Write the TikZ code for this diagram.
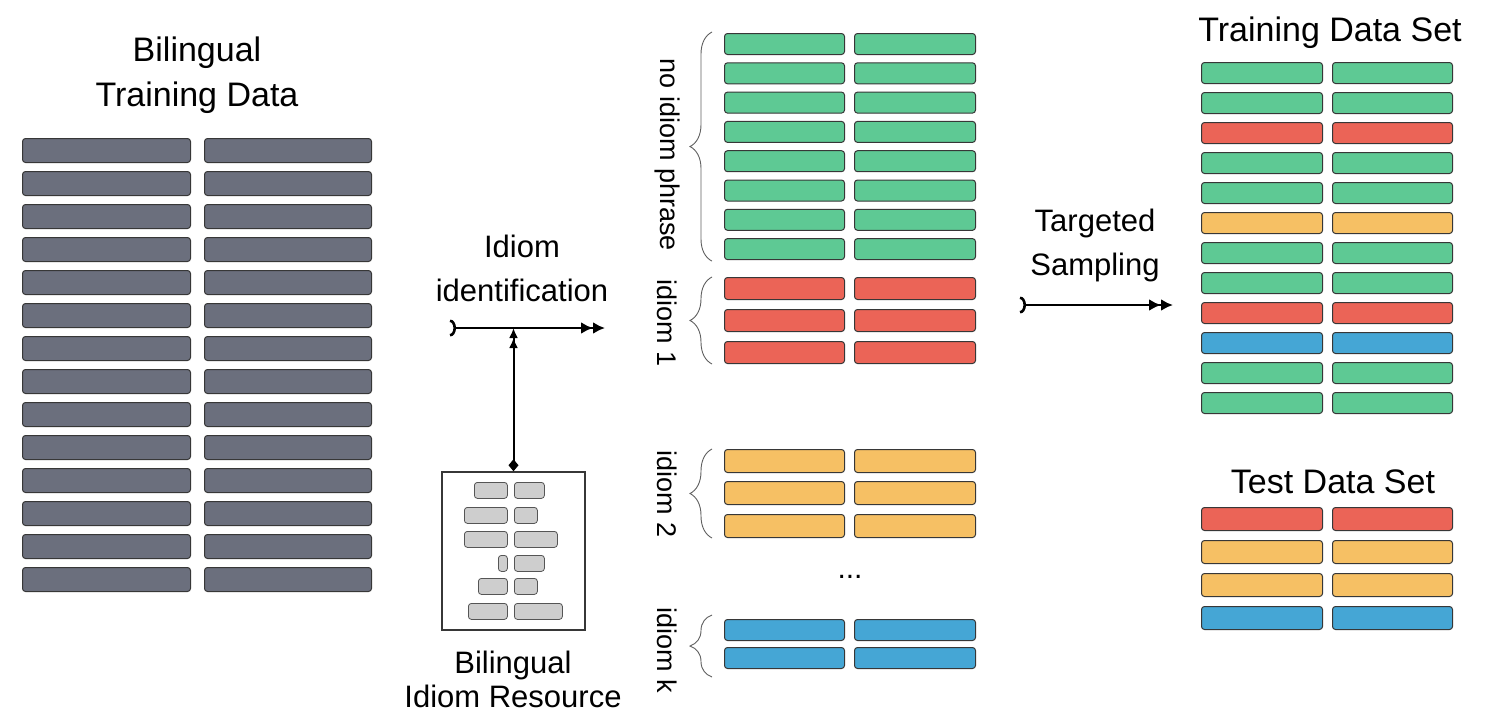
\documentclass[tikz,border=0pt]{standalone}
\usepackage{fontspec}
\setmainfont{Liberation Sans}
\usetikzlibrary{arrows.meta,decorations.pathreplacing}

\definecolor{slatebar}{RGB}{107,111,125}
\definecolor{greenbar}{RGB}{94,201,148}
\definecolor{redbar}{RGB}{235,100,87}
\definecolor{orangebar}{RGB}{246,192,100}
\definecolor{bluebar}{RGB}{69,166,213}
\definecolor{greybar}{RGB}{206,206,206}
\definecolor{rim}{RGB}{55,55,55}

\begin{document}
\begin{tikzpicture}[x=1pt,y=-1pt,
	bar/.style={draw=rim,line width=1pt,rounded corners=3pt,anchor=north west,inner sep=0pt,minimum height=21pt},
	chip/.style={draw=rim!85,fill=greybar,line width=0.8pt,rounded corners=3pt,anchor=north west,inner sep=0pt,minimum height=16pt},
	heading/.style={font=\fontsize{34}{45}\selectfont,align=center},
	textlbl/.style={font=\fontsize{31}{44}\selectfont,align=center},
	sidelbl/.style={font=\fontsize{27}{30}\selectfont,rotate=-90},
	curly/.style={draw=rim!80,line width=0.9pt,decorate,decoration={brace,amplitude=22pt}},
	flow/.style={line width=2.6pt,{Arc Barb[reversed,length=6pt,width=17pt]}-{Latex[length=12pt,width=12pt]Latex[length=12pt,width=12pt]}}]
	\useasboundingbox (0,0) rectangle (1502,724);

	% bilingual training data
	\node[heading] (src-title) at (197,75) {Bilingual\\Training Data};
	\foreach \i in {0,...,13}{
		\node[bar,fill=slatebar,minimum width=168pt,minimum height=24pt] (src-\i-a) at (22,138+33*\i) {};
		\node[bar,fill=slatebar,minimum width=167pt,minimum height=24pt] (src-\i-b) at (204,138+33*\i) {};
	}

	% idiom resource
	\node[draw=rim,line width=1.5pt,minimum width=143pt,minimum height=158pt,inner sep=0pt] (res) at (513.5,551) {};
	\foreach \t/\l/\wl/\wr [count=\i] in {482/474/33/30,507/464/43/23,531/464/43/43,555/498/9/30,578/478/29/23,603/468/39/48}{
		\node[chip,minimum width=\wl pt] (chip-\i-a) at (\l,\t) {};
		\node[chip,minimum width=\wr pt] (chip-\i-b) at (514,\t) {};
	}
	\node[textlbl,font=\fontsize{31}{34}\selectfont] (res-text) at (513,679) {Bilingual\\Idiom Resource};

	% idiom identification
	\node[textlbl] (id-text) at (522,268) {Idiom\\identification};
	\coordinate (id-in) at (450,328);
	\coordinate (id-out) at (605,328);
	\draw[flow] (id-in) -- (id-out);
	\draw[line width=2pt,{Diamond[length=12pt,width=10pt]}-{Latex[length=10pt,width=9pt]Latex[length=10pt,width=9pt]}] (res.north) -- (res.north |- id-in);

	% sorted data
	\foreach \i in {0,...,7}{
		\node[bar,fill=greenbar,minimum width=120pt] (none-\i-a) at (724,33+29.3*\i) {};
		\node[bar,fill=greenbar,minimum width=121pt] (none-\i-b) at (854,33+29.3*\i) {};
	}
	\foreach \y [count=\i] in {277,309,341}{
		\node[bar,fill=redbar,minimum width=120pt,minimum height=22pt] (idone-\i-a) at (724,\y) {};
		\node[bar,fill=redbar,minimum width=121pt,minimum height=22pt] (idone-\i-b) at (854,\y) {};
	}
	\foreach \y [count=\i] in {449,481,514}{
		\node[bar,fill=orangebar,minimum width=120pt,minimum height=23pt] (idtwo-\i-a) at (724,\y) {};
		\node[bar,fill=orangebar,minimum width=121pt,minimum height=23pt] (idtwo-\i-b) at (854,\y) {};
	}
	\foreach \y [count=\i] in {619,647}{
		\node[bar,fill=bluebar,minimum width=120pt] (idk-\i-a) at (724,\y) {};
		\node[bar,fill=bluebar,minimum width=121pt] (idk-\i-b) at (854,\y) {};
	}
	\node[font=\fontsize{30}{34}\selectfont] (dots) at (850,577) {...};

	\draw[curly] ([xshift=-12pt,yshift=-1pt]none-7-a.south west) -- ([xshift=-12pt,yshift=1pt]none-0-a.north west);
	\draw[curly] ([xshift=-12pt]idone-3-a.south west) -- ([xshift=-12pt]idone-1-a.north west);
	\draw[curly] ([xshift=-12pt]idtwo-3-a.south west) -- ([xshift=-12pt]idtwo-1-a.north west);
	\draw[curly] ([xshift=-12pt,yshift=-8pt]idk-2-a.south west) -- ([xshift=-12pt,yshift=4pt]idk-1-a.north west);
	\node[sidelbl] (lbl-none) at (667,155) {no idiom phrase};
	\node[sidelbl] (lbl-one) at (667,323) {idiom 1};
	\node[sidelbl] (lbl-two) at (667,494) {idiom 2};
	\node[sidelbl] (lbl-k) at (667,650) {idiom k};

	% targeted sampling
	\node[textlbl] (ts-text) at (1095,245) {Targeted\\Sampling};
	\coordinate (ts-in) at (1020,305);
	\coordinate (ts-out) at (1173,305);
	\draw[flow] (ts-in) -- (ts-out);

	% training and test sets
	\node[heading] (train-title) at (1330,33) {Training Data Set};
	\foreach \c [count=\i from 0] in {greenbar,greenbar,redbar,greenbar,greenbar,orangebar,greenbar,greenbar,redbar,bluebar,greenbar,greenbar}{
		\node[bar,fill=\c,minimum width=121pt] (train-\i-a) at (1201,62+30*\i) {};
		\node[bar,fill=\c,minimum width=120pt] (train-\i-b) at (1332,62+30*\i) {};
	}
	\node[heading] (test-title) at (1333,482) {Test Data Set};
	\foreach \c [count=\i from 0] in {redbar,orangebar,orangebar,bluebar}{
		\node[bar,fill=\c,minimum width=121pt,minimum height=23pt] (test-\i-a) at (1201,507+33*\i) {};
		\node[bar,fill=\c,minimum width=120pt,minimum height=23pt] (test-\i-b) at (1332,507+33*\i) {};
	}
\end{tikzpicture}
\end{document}
